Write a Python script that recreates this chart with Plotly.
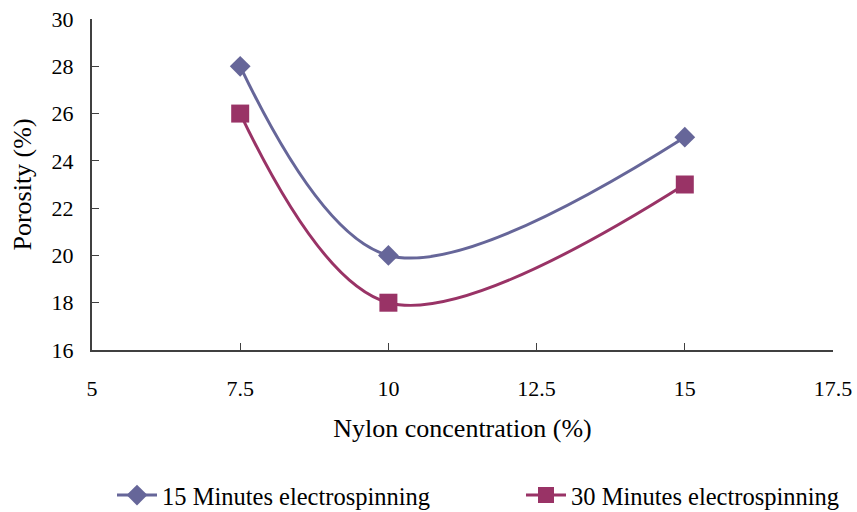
import plotly.graph_objects as go

nylon_conc = [7.5, 10, 15]
porosity_15min = [28, 20, 25]
porosity_30min = [26, 18, 23]
series_names = ["15 Minutes electrospinning", "30 Minutes electrospinning"]

FONT = "Liberation Serif, Times New Roman, serif"

fig = go.Figure()
fig.add_trace(go.Scatter(
    x=nylon_conc, y=porosity_15min, name=series_names[0],
    mode="lines+markers", legend="legend",
    line=dict(color="#666699", width=3, shape="spline", smoothing=1.0),
    marker=dict(symbol="diamond", size=16, color="#666699"),
))
fig.add_trace(go.Scatter(
    x=nylon_conc, y=porosity_30min, name=series_names[1],
    mode="lines+markers", legend="legend2",
    line=dict(color="#993366", width=3, shape="spline", smoothing=1.0),
    marker=dict(symbol="square", size=18, color="#993366"),
))

leg_common = dict(orientation="h", xref="container", yref="container",
                  y=0.033, xanchor="left", yanchor="middle",
                  font=dict(family=FONT, size=24.5), bgcolor="rgba(0,0,0,0)",
                  itemwidth=40)

fig.update_layout(
    width=857, height=512,
    margin=dict(l=92, r=24, t=19, b=162, autoexpand=False),
    paper_bgcolor="white", plot_bgcolor="white",
    font=dict(family=FONT, size=22, color="black"),
    showlegend=True,
    legend=dict(x=112 / 857, **leg_common),
    legend2=dict(x=521 / 857, **leg_common),
)
fig.update_xaxes(
    range=[5, 17.5], tickvals=[5, 7.5, 10, 12.5, 15, 17.5],
    ticktext=["5", "7.5", "10", "12.5", "15", "17.5"],
    showline=True, linecolor="#404040", linewidth=2, mirror=False,
    ticks="inside", ticklen=7, tickcolor="#404040", tickwidth=1,
    showgrid=False, zeroline=False, ticklabelstandoff=18,
    title=dict(text="Nylon concentration (%)", standoff=18),
    automargin=False,
)
fig.update_yaxes(
    range=[16, 30], tickvals=[16, 18, 20, 22, 24, 26, 28, 30],
    showline=True, linecolor="#404040", linewidth=2,
    ticks="inside", ticklen=7, tickcolor="#404040", tickwidth=1,
    showgrid=False, zeroline=False, ticklabelstandoff=12,
    title=dict(text="Porosity (%)", standoff=12),
    automargin=False,
)

fig.write_html("out.html")
